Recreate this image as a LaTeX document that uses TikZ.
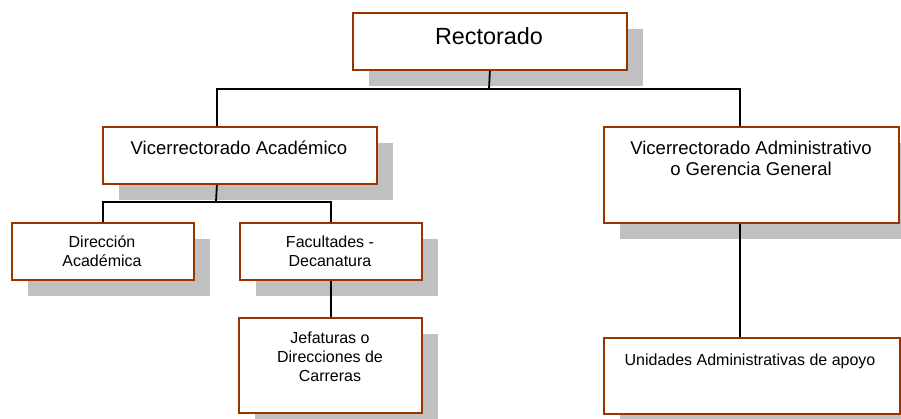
\documentclass[tikz,border=0pt]{standalone}
\usepackage{fontspec}
\setmainfont{Liberation Sans}
\usetikzlibrary{shadows}
\definecolor{boxborder}{HTML}{993300}
\definecolor{shadowgray}{HTML}{C0C0C0}
\begin{document}
\begin{tikzpicture}[x=1pt,y=-1pt,
  orgbox/.style={draw=boxborder, line width=1.8pt, fill=white, anchor=north west, inner sep=0pt,
    drop shadow={shadow xshift=16pt, shadow yshift=-16pt, fill=shadowgray, opacity=1, draw=none}},
  txt/.style={inner sep=0pt, anchor=base, align=center, text=black},
  bigtxt/.style={txt, font=\fontsize{23.4}{28}\selectfont},
  midtxt/.style={txt, font=\fontsize{18.5}{21.5}\selectfont},
  smalltxt/.style={txt, font=\fontsize{16}{19}\selectfont},
  conn/.style={draw=black, line width=1.8pt}]
\useasboundingbox (0,0) rectangle (901,419);
\clip (0,0) rectangle (901,419);
% boxes
\node[orgbox, minimum width=274pt, minimum height=57pt] (R) at (352,12) {};
\node[orgbox, minimum width=274pt, minimum height=57pt] (VA) at (102,126) {};
\node[orgbox, minimum width=295pt, minimum height=96pt] (VAdm) at (603,126) {};
\node[orgbox, minimum width=182pt, minimum height=57pt] (DA) at (11,222) {};
\node[orgbox, minimum width=182pt, minimum height=57pt] (FD) at (239,222) {};
\node[orgbox, minimum width=183pt, minimum height=95pt] (J) at (238,317) {};
\node[orgbox, minimum width=296pt, minimum height=76pt] (U) at (603,337) {};
% texts (base anchor = baseline of the last line)
\node[bigtxt] (tR) at (489,45) {Rectorado};
\node[midtxt] (tVA) at (239,155) {Vicerrectorado Académico};
\node[midtxt] (tVAdm) at (751,176) {Vicerrectorado Administrativo\\o Gerencia General};
\node[smalltxt] (tDA) at (102,267) {Dirección\\Académica};
\node[smalltxt] (tFD) at (330,267) {Facultades -\\Decanatura};
\node[smalltxt] (tJ) at (330,381) {Jefaturas o\\Direcciones de\\Carreras};
\node[smalltxt] (tU) at (750,365) {Unidades Administrativas de apoyo};
% connectors
\coordinate (b1) at (489,89);
\coordinate (b2) at (216,202);
\draw[conn] (R.south) -- (b1);
\draw[conn] (b1) -| ([xshift=-23pt]VA.north);
\draw[conn] (b1) -| ([xshift=-11.5pt]VAdm.north);
\draw[conn] ([xshift=-23pt]VA.south) -- (b2);
\draw[conn] (b2) -| (DA.north);
\draw[conn] (b2) -| (FD.north);
\draw[conn] (FD.south) -- (FD.south |- J.north);
\draw[conn] ([xshift=-11.5pt]VAdm.south) -- ([xshift=-11.5pt]VAdm.south |- U.north);
\end{tikzpicture}
\end{document}
